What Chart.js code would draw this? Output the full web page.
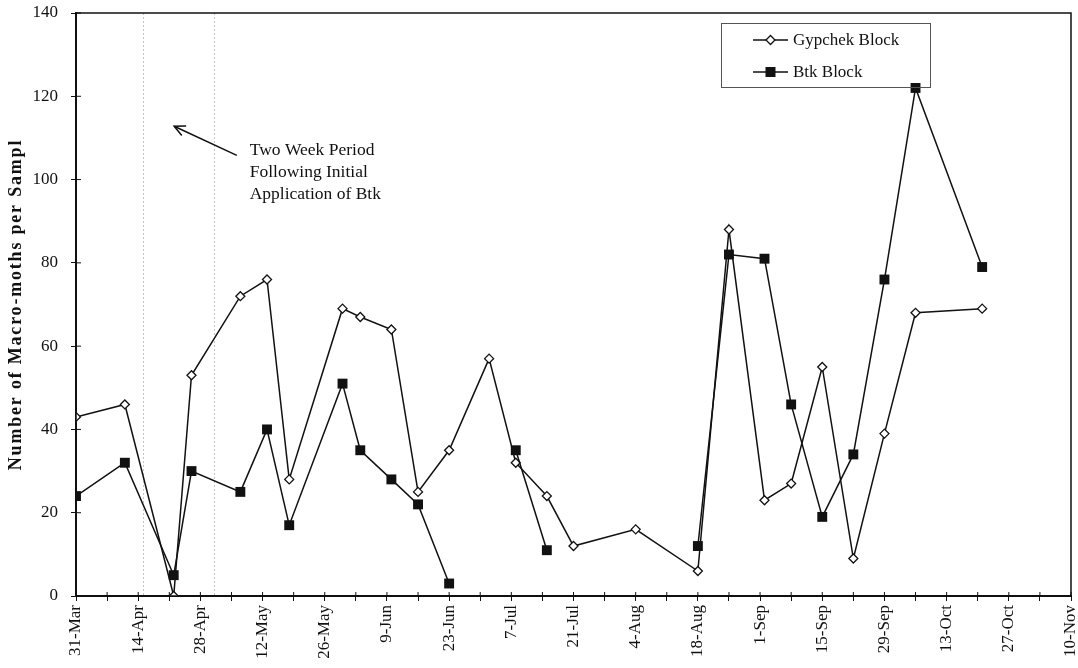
<!DOCTYPE html>
<html><head><meta charset="utf-8">
<script src="https://cdn.jsdelivr.net/npm/chart.js@4/dist/chart.umd.min.js"></script>
<style>html,body{margin:0;padding:0;background:#fff;}#wrap{width:1078px;height:668px;}</style>
</head><body><div id="wrap"><canvas id="c" width="1078" height="668"></canvas></div>
<script>
// ---- data ----
const YEAR = 1997;
const sampleDates = ['31-Mar','11-Apr','22-Apr','26-Apr','7-May','13-May','18-May','30-May','3-Jun','10-Jun','16-Jun','23-Jun','2-Jul','8-Jul','15-Jul','21-Jul','4-Aug','18-Aug','25-Aug','2-Sep','8-Sep','15-Sep','22-Sep','29-Sep','6-Oct','21-Oct'];
const gypchek = [43,46,0,53,72,76,28,69,67,64,25,35,57,32,24,12,16,6,88,23,27,55,9,39,68,69];
const btk     = [24,32,5,30,25,40,17,51,35,28,22,3,null,35,11,null,null,12,82,81,46,19,34,76,122,79];
const xTickLabels = ['31-Mar','14-Apr','28-Apr','12-May','26-May','9-Jun','23-Jun','7-Jul','21-Jul','4-Aug','18-Aug','1-Sep','15-Sep','29-Sep','13-Oct','27-Oct','10-Nov'];
const yMin = 0, yMax = 140, yStep = 20;
const seriesNames = ['Gypchek Block','Btk Block'];
const yTitle = 'Number of Macro-moths per Sampl';
const noteLines = ['Two Week Period','Following Initial','Application of Btk'];
const periodDates = ['15-Apr','1-May'];

const MONTHS = {Jan:0,Feb:1,Mar:2,Apr:3,May:4,Jun:5,Jul:6,Aug:7,Sep:8,Oct:9,Nov:10,Dec:11};
function toUTC(s){ const p = s.split('-'); return Date.UTC(YEAR, MONTHS[p[1]], +p[0]); }
const T0 = toUTC(xTickLabels[0]);
function dayOf(s){ return (toUTC(s) - T0) / 864e5; }
const xMax = dayOf(xTickLabels[xTickLabels.length-1]);

const SERIF = '"Liberation Serif","Times New Roman",serif';
const INK = '#111';

function drawMarker(ctx, style, x, y){
  ctx.save();
  ctx.lineWidth = 1.3; ctx.strokeStyle = INK;
  if (style === 'diamond') {
    const r = 4.5;
    ctx.beginPath(); ctx.moveTo(x-r,y); ctx.lineTo(x,y-r); ctx.lineTo(x+r,y); ctx.lineTo(x,y+r); ctx.closePath();
    ctx.fillStyle = '#fff'; ctx.fill(); ctx.stroke();
  } else {
    const h = 5;
    ctx.fillStyle = INK; ctx.fillRect(x-h,y-h,2*h,2*h);
  }
  ctx.restore();
}

const decor = {
  id:'decor',
  beforeDatasetsDraw(chart){
    const {ctx, chartArea:a, scales:{x}} = chart;
    ctx.save();
    ctx.strokeStyle = '#c4c4c4'; ctx.lineWidth = 1; ctx.setLineDash([2,2]);
    periodDates.forEach(d => {
      const px = Math.round(x.getPixelForValue(dayOf(d))) + 0.5;
      ctx.beginPath(); ctx.moveTo(px, a.top); ctx.lineTo(px, a.bottom); ctx.stroke();
    });
    ctx.restore();
  },
  afterDraw(chart){
    const {ctx, chartArea:a, scales:{x, y}} = chart;
    ctx.save();
    // frame
    ctx.strokeStyle = INK; ctx.lineWidth = 1.5;
    ctx.strokeRect(a.left, a.top, a.right - a.left, a.bottom - a.top);
    // inward tick marks
    ctx.lineWidth = 1;
    x.ticks.forEach(t => { const px = x.getPixelForValue(t.value); ctx.beginPath(); ctx.moveTo(px, a.bottom); ctx.lineTo(px, a.bottom-4); ctx.stroke(); });
    y.ticks.forEach(t => { const py = y.getPixelForValue(t.value); ctx.beginPath(); ctx.moveTo(a.left, py); ctx.lineTo(a.left+5, py); ctx.stroke(); });
    // y-axis title (letter-spaced, rotated)
    ctx.save();
    ctx.translate(16, (a.top + a.bottom) / 2);
    ctx.rotate(-Math.PI/2);
    ctx.font = 'bold 18px ' + SERIF;
    try { ctx.letterSpacing = '1.8px'; } catch(e) {}
    ctx.textAlign = 'center'; ctx.textBaseline = 'middle'; ctx.fillStyle = INK;
    ctx.fillText(yTitle, 0, 0);
    ctx.restore();
    // legend
    const bx = a.right - 350, by = a.top + 10, bw = 209, bh = 64;
    ctx.strokeStyle = '#555'; ctx.lineWidth = 1;
    ctx.strokeRect(bx+0.5, by+0.5, bw, bh);
    const styles = ['diamond','square'];
    ctx.font = '17px ' + SERIF; ctx.fillStyle = INK; ctx.textBaseline = 'middle'; ctx.textAlign = 'left';
    seriesNames.forEach((n,i) => {
      const ly = by + 17 + i*32;
      ctx.strokeStyle = INK; ctx.lineWidth = 1.5;
      ctx.beginPath(); ctx.moveTo(bx+32, ly); ctx.lineTo(bx+67, ly); ctx.stroke();
      drawMarker(ctx, styles[i], bx+49.5, ly);
      ctx.fillStyle = INK;
      ctx.fillText(n, bx+72, ly+1);
    });
    // annotation
    ctx.font = '17.5px ' + SERIF;
    const tx = x.getPixelForValue(39.1);
    let ty = y.getPixelForValue(107);
    noteLines.forEach((l,i) => ctx.fillText(l, tx, ty + i*22));
    const ax0 = x.getPixelForValue(36.2), ay0 = y.getPixelForValue(105.8);
    const ax1 = x.getPixelForValue(22.1), ay1 = y.getPixelForValue(112.8);
    ctx.strokeStyle = INK; ctx.lineWidth = 1.5;
    ctx.beginPath(); ctx.moveTo(ax0, ay0); ctx.lineTo(ax1, ay1); ctx.stroke();
    const ang = Math.atan2(ay0-ay1, ax0-ax1), L = 12, sp = 0.45;
    ctx.beginPath();
    ctx.moveTo(ax1 + L*Math.cos(ang-sp), ay1 + L*Math.sin(ang-sp));
    ctx.lineTo(ax1, ay1);
    ctx.lineTo(ax1 + L*Math.cos(ang+sp), ay1 + L*Math.sin(ang+sp));
    ctx.stroke();
    ctx.restore();
  }
};

const mk = arr => sampleDates.map((d,i) => ({x: dayOf(d), y: arr[i]}));

new Chart(document.getElementById('c'), {
  type:'line',
  data:{datasets:[
    {label:seriesNames[1], data: mk(btk), borderColor:INK, borderWidth:1.5, tension:0, spanGaps:false,
     pointStyle:'rect', pointRadius:7, pointBackgroundColor:INK, pointBorderColor:INK, pointBorderWidth:0},
    {label:seriesNames[0], data: mk(gypchek), borderColor:INK, borderWidth:1.5, tension:0, spanGaps:false,
     pointStyle:'rectRot', pointRadius:4.5, pointBackgroundColor:'#fff', pointBorderColor:INK, pointBorderWidth:1.3}
  ]},
  options:{
    responsive:false, animation:false,
    layout:{padding:{top:13, right:1, left:0, bottom:0}},
    plugins:{legend:{display:false}, tooltip:{enabled:false}},
    scales:{
      x:{type:'linear', min:0, max:xMax,
        afterBuildTicks: s => { const t=[]; for(let v=0; v<=xMax; v+=7) t.push({value:v}); s.ticks = t; },
        ticks:{autoSkip:false, maxRotation:90, minRotation:90, padding:4, color:INK,
          font:{family:SERIF, size:17},
          callback: v => (v % 14 === 0 ? xTickLabels[v/14] : '')},
        grid:{display:true, drawOnChartArea:false, drawTicks:true, tickLength:5, color:INK, tickColor:INK, lineWidth:1},
        border:{display:true, color:INK, width:2},
        afterFit: s => { s.height = 72; s.paddingLeft = 0; s.paddingRight = 0; }
      },
      y:{min:yMin, max:yMax,
        ticks:{stepSize:yStep, padding:13, color:INK, font:{family:SERIF, size:17}},
        grid:{display:true, drawOnChartArea:false, drawTicks:true, tickLength:5, color:INK, tickColor:INK, lineWidth:1},
        border:{display:true, color:INK, width:2},
        title:{display:false, text:yTitle},
        afterFit: s => { s.width = 76; s.paddingTop = 0; s.paddingBottom = 0; }
      }
    }
  },
  plugins:[decor]
});
</script>
</body></html>
